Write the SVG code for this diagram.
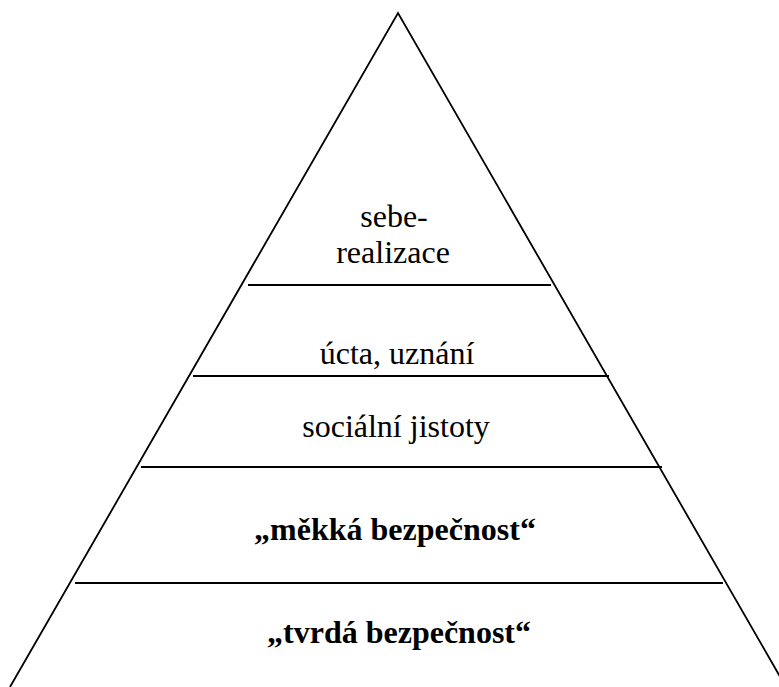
<svg xmlns="http://www.w3.org/2000/svg" width="779" height="687" viewBox="0 0 779 687">
<style>
.edge{stroke:#000;stroke-width:1.8;fill:none}
.div{stroke:#000;stroke-width:2}
.t{font-family:"Liberation Serif","Times New Roman",serif;font-size:32px;fill:#000;text-anchor:middle}
.b{font-weight:bold}
</style>
<rect width="779" height="687" fill="#fff"/>
<g id="connectors">
<path class="edge" d="M10 687 L398 13 L786 687"/>
<line class="div" x1="248" y1="285" x2="551" y2="285"/>
<line class="div" x1="193" y1="376" x2="609" y2="376"/>
<line class="div" x1="141" y1="467" x2="662" y2="467"/>
<line class="div" x1="75" y1="583" x2="723" y2="583"/>
</g>
<g id="n1"><text class="t" x="394" y="227">sebe-</text><text class="t" x="393" y="263">realizace</text></g>
<g id="n2"><text class="t" x="397" y="364">úcta, uznání</text></g>
<g id="n3"><text class="t" x="396" y="437">sociální jistoty</text></g>
<g id="n4"><text class="t b" x="395" y="540">„měkká bezpečnost“</text></g>
<g id="n5"><text class="t b" x="399" y="643">„tvrdá bezpečnost“</text></g>
</svg>
